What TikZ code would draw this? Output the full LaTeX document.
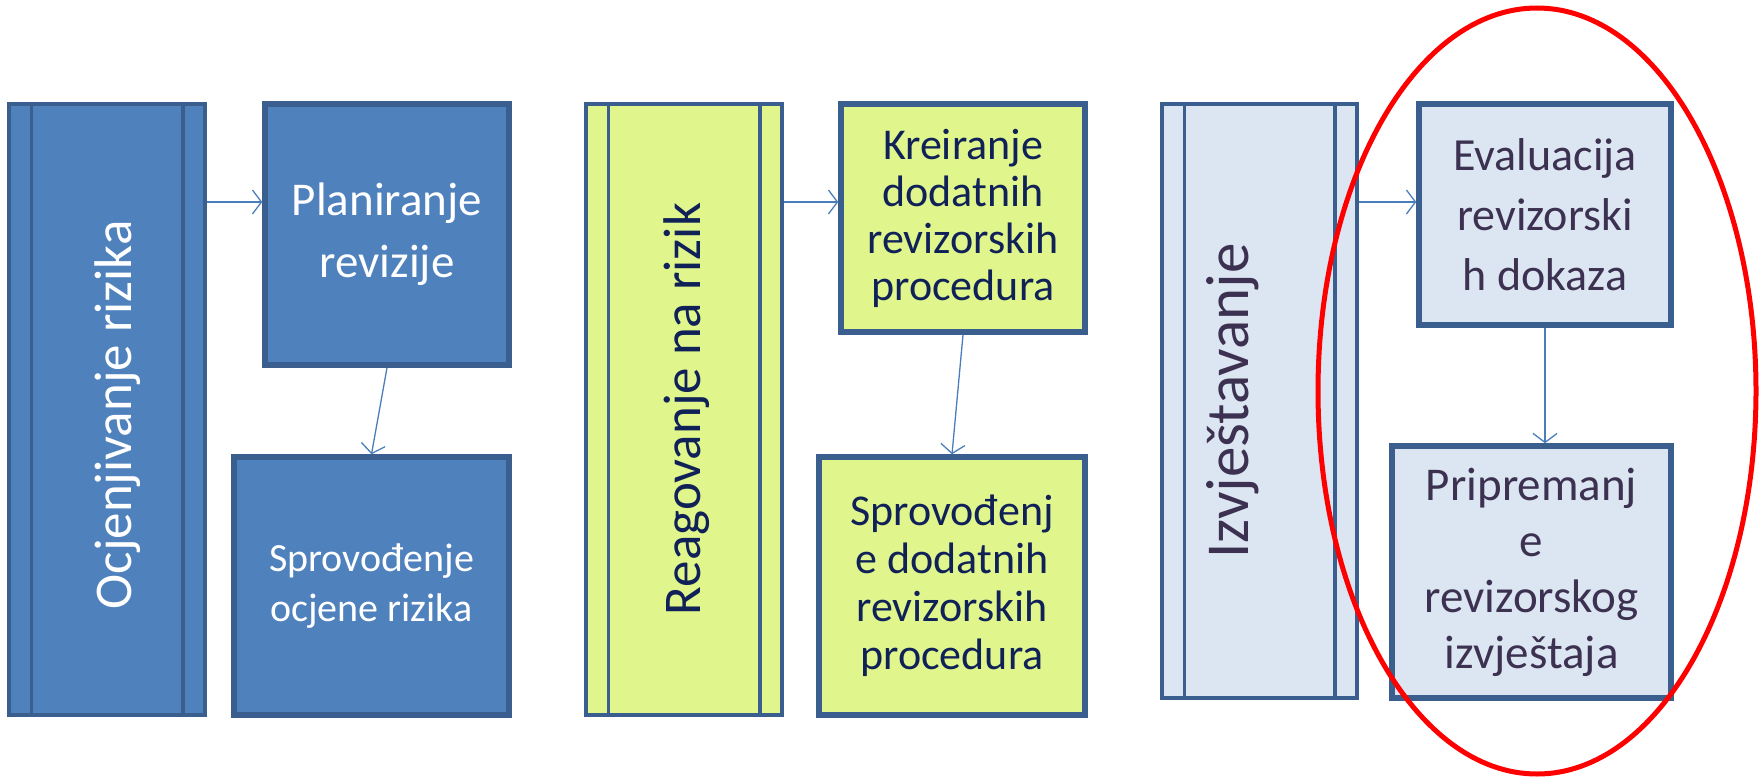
\documentclass[tikz,border=0pt]{standalone}
\usepackage{fontspec}
\setmainfont{Carlito}
\usetikzlibrary{arrows.meta,calc}
\definecolor{bordc}{HTML}{3A5F8E}
\definecolor{fillA}{HTML}{4F81BD}
\definecolor{fillB}{HTML}{E0F58C}
\definecolor{fillC}{HTML}{DCE6F2}
\definecolor{textB}{HTML}{0F2157}
\definecolor{textC}{HTML}{3C3150}
\definecolor{arrc}{HTML}{4A7EBB}
\begin{document}
\begin{tikzpicture}[x=1pt,y=-1pt,
  longbox/.style={draw=bordc, line width=3.5pt, minimum width=196pt, inner sep=0pt},
  innerline/.style={draw=bordc, line width=3.5pt},
  smallbox/.style={draw=bordc, line width=5.5pt, inner sep=0pt, align=center},
  vtext/.style={rotate=90, inner sep=0pt},
  arr/.style={draw=arrc, line width=1.3pt, -{Straight Barb[length=9pt,width=24pt]}},
  ring/.style={draw=red, line width=5pt}
]
\useasboundingbox (0,0) rectangle (1759,779);

% Panel 1
\node[longbox, fill=fillA, minimum height=611pt] (ocj) at (107,409.5) {};
\node[smallbox, fill=fillA, minimum width=244pt, minimum height=261pt, text=white,
      font=\fontsize{47}{62}\selectfont] (plan) at (387,234.5) {Planiranje\\revizije};
\node[smallbox, fill=fillA, minimum width=275pt, minimum height=258pt, text=white,
      font=\fontsize{40}{50}\selectfont] (spr1) at (371.5,586) {Sprovođenje\\ocjene rizika};

% Panel 2
\node[longbox, fill=fillB, minimum height=611pt] (rea) at (684,409.5) {};
\node[smallbox, fill=fillB, minimum width=244pt, minimum height=228pt, text=textB,
      font=\fontsize{44}{47}\selectfont] (kre) at (963,218) {Kreiranje\\dodatnih\\revizorskih\\procedura};
\node[smallbox, fill=fillB, minimum width=266pt, minimum height=258pt, text=textB,
      font=\fontsize{44}{48}\selectfont] (spr2) at (952,586) {Sprovođenj\\e dodatnih\\revizorskih\\procedura};

% Panel 3
\node[longbox, fill=fillC, minimum height=594pt, minimum width=195pt] (izv) at (1259.5,401) {};
\node[smallbox, fill=fillC, minimum width=252pt, minimum height=221pt, text=textC,
      font=\fontsize{46}{60}\selectfont] (eval) at (1545,214.5) {Evaluacija\\revizorski\\h dokaza};
\node[smallbox, fill=fillC, minimum width=279pt, minimum height=252pt, text=textC,
      font=\fontsize{47}{56}\selectfont] (prip) at (1531.5,572) {Pripremanj\\e\\revizorskog\\izvještaja};

% inner lines of the long boxes
\foreach \n in {ocj,rea,izv}{
  \draw[innerline] ([xshift=24pt]\n.north west) -- ([xshift=24pt]\n.south west);
  \draw[innerline] ([xshift=-24pt]\n.north east) -- ([xshift=-24pt]\n.south east);
}

% vertical texts
\node[vtext, text=white, font=\fontsize{53}{60}\selectfont] (ocjt) at (118,415) {Ocjenjivanje rizika};
\node[vtext, text=textB, font=\fontsize{53}{60}\selectfont] (reat) at (687,409) {Reagovanje na rizik};
\node[vtext, text=textC, font=\fontsize{61}{70}\selectfont] (izvt) at (1233,401) {Izvještavanje};

% connectors
\coordinate (ya) at (0,202);
\draw[arr] (ocj.east |- ya) -- (plan.west |- ya);
\draw[arr] (rea.east |- ya) -- (kre.west |- ya);
\draw[arr] (izv.east |- ya) -- (eval.west |- ya);
\draw[arr] (plan.south) -- (spr1.north);
\draw[arr] (kre.south) -- (spr2.north);
\draw[arr] (eval.south) -- (eval.south |- prip.north);

% red ellipse
\draw[ring] (1537,391) ellipse [x radius=219, y radius=383];
\end{tikzpicture}
\end{document}
